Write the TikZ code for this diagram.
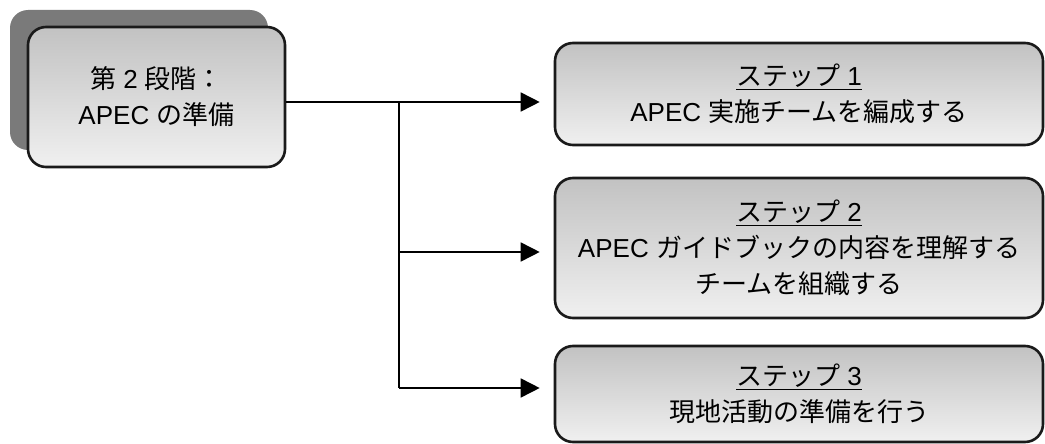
\documentclass[tikz,border=0pt]{standalone}
\usepackage{fontspec}
\setmainfont{Liberation Sans}
\newfontfamily\jp{Noto Sans CJK JP}
\usetikzlibrary{arrows.meta}
\definecolor{boxtop}{HTML}{C2C2C2}
\definecolor{boxbot}{HTML}{F0F0F0}
\definecolor{shadowgray}{HTML}{7A7A7A}
\definecolor{edge}{HTML}{1A1A1A}
\tikzset{
  stepbox/.style={draw=edge, line width=2.6pt, rounded corners=18pt,
    top color=boxtop, bottom color=boxbot, align=center,
    font=\fontsize{26}{36}\selectfont, inner sep=0pt},
  shadowbox/.style={fill=shadowgray, rounded corners=18pt, inner sep=0pt},
  conn/.style={line width=1.6pt, draw=black},
  arr/.style={conn, -{Triangle[length=19pt,width=19pt]}}
}
\begin{document}
\begin{tikzpicture}[x=1pt,y=-1pt]
\useasboundingbox (0,0) rectangle (1045,444);
\node[shadowbox, minimum width=258pt, minimum height=140pt] (shadow) at (139,80) {};
\node[stepbox, minimum width=257pt, minimum height=140pt] (main) at (156.5,97)
  {{\jp 第} 2 {\jp 段階：}\\APEC {\jp の準備}};
\node[stepbox, minimum width=488pt, minimum height=102pt] (b1) at (799,94)
  {\underline{{\jp ステップ} 1}\\APEC {\jp 実施チームを編成する}};
\node[stepbox, minimum width=488pt, minimum height=140pt] (b2) at (799,248)
  {\underline{{\jp ステップ} 2}\\APEC {\jp ガイドブックの内容を理解する}\\{\jp チームを組織する}};
\node[stepbox, minimum width=488pt, minimum height=96pt] (b3) at (799,394)
  {\underline{{\jp ステップ} 3}\\{\jp 現地活動の準備を行う}};
\coordinate (j1) at (399,102);
\coordinate (j2) at (399,252);
\coordinate (j3) at (399,388);
\draw[arr] (main.east |- j1) -- ([xshift=-14pt]b1.west |- j1);
\draw[conn] (j1) -- (j3);
\draw[arr] (j2) -- ([xshift=-14pt]b2.west |- j2);
\draw[arr] (j3) -- ([xshift=-14pt]b3.west |- j3);
\end{tikzpicture}
\end{document}
